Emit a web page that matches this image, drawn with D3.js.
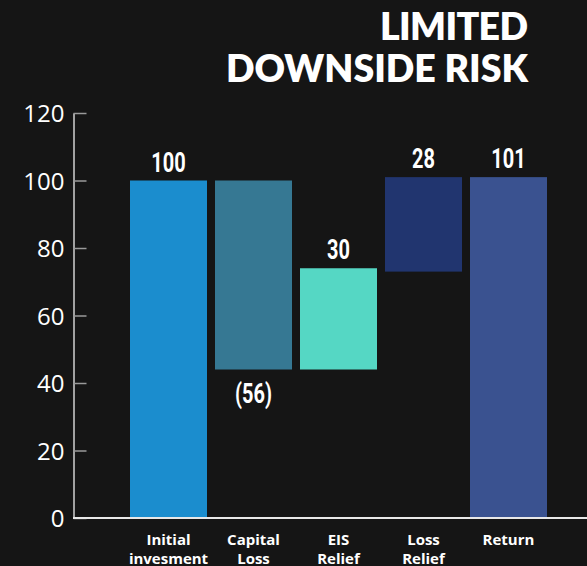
<!DOCTYPE html>
<html>
<head>
<meta charset="utf-8">
<script src="https://cdn.jsdelivr.net/npm/d3@7/dist/d3.min.js"></script>
<style>
  html, body { margin: 0; padding: 0; background: #151515; }
  svg { display: block; }
</style>
</head>
<body>
<svg id="chart" width="587" height="566"></svg>
<script>
// Waterfall steps: each bar spans from its base to base + value
const categories = [["Initial", "invesment"], ["Capital", "Loss"], ["EIS", "Relief"], ["Loss", "Relief"], ["Return"]];
const values = [100, -56, 30, 28, 101];
const bases = [0, 100, 44, 73, 0];
const valueLabels = ["100", "(56)", "30", "28", "101"];
const barColors = ["#1b8dce", "#367893", "#55d7c4", "#21356f", "#3a5290"];
const yTicks = [0, 20, 40, 60, 80, 100, 120];
const titleLines = ["LIMITED", "DOWNSIDE RISK"];

const W = 587, H = 566;
const svg = d3.select("#chart");

svg.append("rect").attr("width", W).attr("height", H).attr("fill", "#151515");

const y = d3.scaleLinear().domain([0, 120]).range([518, 113]);
const x = d3.scaleBand()
  .domain(d3.range(categories.length))
  .range([126, 551])
  .paddingInner(8 / 85)
  .paddingOuter(4 / 85);

// Title, right aligned, each line fitted to its width
const titleWidths = [148, 302];
const title = svg.append("text")
  .attr("text-anchor", "end")
  .attr("fill", "#ffffff")
  .attr("font-family", "Lato, 'Open Sans', sans-serif")
  .attr("font-weight", 800)
  .attr("font-size", 37.5);
title.selectAll("tspan").data(titleLines).join("tspan")
  .attr("x", 528)
  .attr("y", (d, i) => i === 0 ? 39.5 : 81.5)
  .attr("textLength", (d, i) => titleWidths[i])
  .attr("lengthAdjust", "spacing")
  .text(d => d);

// Y axis with ticks pointing into the plot
const yAxis = d3.axisLeft(y).tickValues(yTicks).tickSizeInner(-13).tickSizeOuter(0).tickPadding(9);
const gy = svg.append("g").attr("transform", "translate(73.5,0)").call(yAxis);
gy.select(".domain").attr("stroke", "#d0d0d0").attr("stroke-width", 1.5);
gy.selectAll(".tick line").attr("stroke", "#9a9a9a").attr("stroke-width", 1.5);
gy.selectAll(".tick text")
  .attr("fill", "#ffffff")
  .attr("font-family", "'Open Sans', sans-serif")
  .attr("font-weight", 500)
  .attr("font-size", 24)
  .attr("dy", "0.36em");

// Bars
svg.append("g").selectAll("rect").data(values).join("rect")
  .attr("x", (d, i) => x(i))
  .attr("width", x.bandwidth())
  .attr("y", (d, i) => y(Math.max(bases[i], bases[i] + d)))
  .attr("height", (d, i) => Math.abs(y(bases[i]) - y(bases[i] + d)))
  .attr("fill", (d, i) => barColors[i]);

// Baseline
svg.append("line")
  .attr("x1", 73).attr("x2", W)
  .attr("y1", y(0)).attr("y2", y(0))
  .attr("stroke", "#e8e8e8").attr("stroke-width", 2);

// Value labels in a narrow face: above positive steps, below negative ones
svg.append("g").selectAll("text").data(values).join("text")
  .attr("transform", (d, i) => {
    const cx = x(i) + x.bandwidth() / 2;
    const ty = d < 0 ? y(bases[i] + d) + 33 : y(bases[i] + d) - 9;
    return `translate(${cx},${ty}) scale(0.74,1)`;
  })
  .attr("text-anchor", "middle")
  .attr("fill", "#ffffff")
  .attr("font-family", "Roboto, 'DejaVu Sans', sans-serif")
  .attr("font-weight", 700)
  .attr("font-size", 27)
  .text((d, i) => valueLabels[i]);

// Category labels
const cat = svg.append("g").selectAll("text").data(categories).join("text")
  .attr("text-anchor", "middle")
  .attr("fill", "#ffffff")
  .attr("font-family", "'Open Sans', sans-serif")
  .attr("font-weight", 700)
  .attr("font-size", 15);
cat.selectAll("tspan").data((d, i) => d.map(t => ({ t, i }))).join("tspan")
  .attr("x", d => x(d.i) + x.bandwidth() / 2)
  .attr("y", (d, j) => 545 + j * 19)
  .text(d => d.t);
</script>
</body>
</html>
